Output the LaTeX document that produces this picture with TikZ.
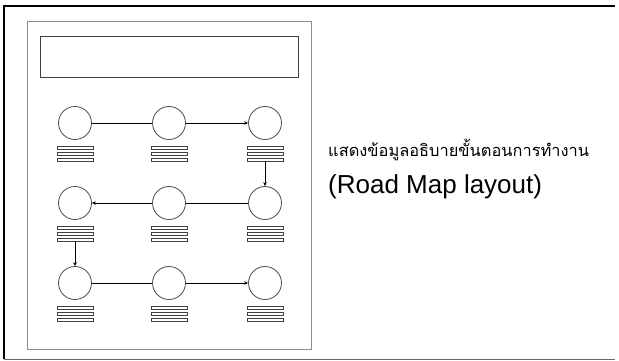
\documentclass[tikz,border=0pt]{standalone}
\usepackage{fontspec}
\setmainfont{Liberation Sans}
\newfontfamily\thaifont[Script=Thai]{Loma}
\usetikzlibrary{arrows.meta}
\begin{document}
\begin{tikzpicture}[x=1pt,y=-1pt,
  circ/.style={circle,draw=black!70,line width=0.8pt,minimum size=33pt,inner sep=0pt},
  barbox/.style={rectangle,draw=black!75,line width=0.7pt,minimum width=36pt,minimum height=3pt,inner sep=0pt},
  conn/.style={draw=black,line width=0.7pt},
  tip/.style={-{Stealth[length=4pt,width=3.5pt]}},
  frameline/.style={draw=black!45,line width=1pt}]
\useasboundingbox (0,0) rectangle (619,361);
% outer frame
\draw[black,line width=2pt] (4,359) -- (4,6) -- (615,6);
\draw[black!60,line width=1pt] (4,359) -- (615,359);
% inner frame
\node[frameline,rectangle,minimum width=284pt,minimum height=327pt,inner sep=0pt] (frame) at (169,185.5) {};
% title box
\node[rectangle,draw=black!75,line width=0.8pt,minimum width=258pt,minimum height=41pt,inner sep=0pt] (title) at (169,56.5) {};
% circles and bars
\foreach \r/\y in {1/123,2/203,3/283}{
  \foreach \c/\x in {1/75,2/169,3/265}{
    \node[circ] (c\r\c) at (\x,\y) {};
    \foreach \k in {0,1,2}{
      \node[barbox] (b\r\c\k) at (\x,{\y+24.5+6*\k}) {};
    }
  }
}
% connectors
\draw[conn] (c11) -- (c12);
\draw[conn,tip] (c12) -- (c13);
\draw[conn,tip] (b132.south) -- (c23);
\draw[conn] (c23) -- (c22);
\draw[conn,tip] (c22) -- (c21);
\draw[conn,tip] (b212.south) -- (c31);
\draw[conn] (c31) -- (c32);
\draw[conn,tip] (c32) -- (c33);
% text
\node[anchor=base west,inner sep=0pt,font=\thaifont\fontsize{16.4pt}{20pt}\selectfont] (thai) at (328,156) {แสดงข้อมูลอธิบายขั้นตอนการทำงาน};
\node[anchor=base west,inner sep=0pt,font=\fontsize{26pt}{28pt}\selectfont] (eng) at (328,193) {(Road Map layout)};
\end{tikzpicture}
\end{document}
